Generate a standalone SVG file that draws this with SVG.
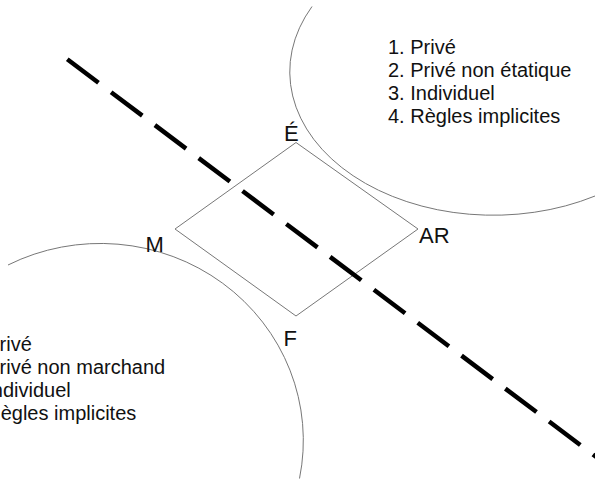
<svg xmlns="http://www.w3.org/2000/svg" width="595" height="480" viewBox="0 0 595 480">
  <style>
    .thin { fill: none; stroke: #777; stroke-width: 1; }
    .txt { font-family: "Liberation Sans", Arial, sans-serif; fill: #111; }
    .list { font-size: 20px; }
    .lbl { font-size: 22px; }
    .dash { fill: none; stroke: #000; stroke-width: 4.5; stroke-dasharray: 39 15.8; }
  </style>
  <rect width="595" height="480" fill="#fff"/>
  <g id="region-top">
    <path class="thin" d="M 312 6.5 A 203.5 143.5 0 0 0 595 196"/>
    <text class="txt list" x="388" y="54">1. Privé</text>
    <text class="txt list" x="388" y="77">2. Privé non étatique</text>
    <text class="txt list" x="388" y="100">3. Individuel</text>
    <text class="txt list" x="388" y="123">4. Règles implicites</text>
  </g>
  <g id="region-bottom">
    <path class="thin" d="M 8 265 A 203 197 0 0 1 299.5 478.5"/>
    <text class="txt list" x="-36" y="351">1. Privé</text>
    <text class="txt list" x="-36" y="374">2. Privé non marchand</text>
    <text class="txt list" x="-36" y="397">3. Individuel</text>
    <text class="txt list" x="-36" y="420">4. Règles implicites</text>
  </g>
  <g id="diamond">
    <polygon class="thin" points="296,142.5 418,229 296,316 175,229"/>
  </g>
  <g id="node-E"><text class="txt lbl" x="284" y="141">É</text></g>
  <g id="node-AR"><text class="txt lbl" x="419" y="243">AR</text></g>
  <g id="node-F"><text class="txt lbl" x="283.5" y="346">F</text></g>
  <g id="node-M"><text class="txt lbl" x="145.5" y="252">M</text></g>
  <g id="connectors">
    <line class="dash" x1="67.3" y1="59.3" x2="610" y2="467.3"/>
  </g>
</svg>
